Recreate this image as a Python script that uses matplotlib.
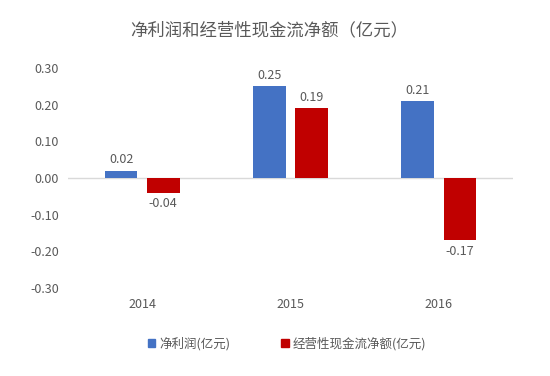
import numpy as np
import matplotlib.pyplot as plt
from matplotlib.patches import Patch

plt.rcParams['font.family'] = ['Noto Sans CJK SC', 'DejaVu Sans']

years = ["2014", "2015", "2016"]
net_profit = [0.02, 0.25, 0.21]
op_cash = [-0.04, 0.19, -0.17]
series_names = ["净利润(亿元)", "经营性现金流净额(亿元)"]
title = "净利润和经营性现金流净额（亿元）"

blue = "#4472C4"
red = "#C00000"
txt = "#595959"

fig = plt.figure(figsize=(5.5, 3.76), dpi=100)
ax = fig.add_axes([0.1236, 0.234, 0.809, 0.585])

x = np.arange(len(years))
w = 0.22
off = 0.142
ax.bar(x - off, net_profit, w, color=blue)
ax.bar(x + off, op_cash, w, color=red)

for xi, v in zip(x, net_profit):
    ax.text(xi - off, v + 0.012, f"{v:.2f}", ha="center", va="bottom", fontsize=9, color=txt)
for xi, v in zip(x, op_cash):
    if v >= 0:
        ax.text(xi + off, v + 0.012, f"{v:.2f}", ha="center", va="bottom", fontsize=9, color=txt)
    else:
        ax.text(xi + off, v - 0.012, f"{v:.2f}", ha="center", va="top", fontsize=9, color=txt)

ax.set_xlim(-0.5, 2.5)
ax.set_ylim(-0.3, 0.3)
ax.set_yticks(np.arange(-0.3, 0.31, 0.1))
ax.set_yticklabels([f"{t:.2f}" for t in np.arange(-0.3, 0.31, 0.1)])
ax.set_xticks(x)
ax.set_xticklabels(years)
ax.tick_params(axis="both", length=0, labelsize=9, colors=txt)
ax.tick_params(axis="y", pad=6.5)
ax.tick_params(axis="x", pad=7)
for s in ax.spines.values():
    s.set_visible(False)
ax.axhline(0, color="#D9D9D9", linewidth=1, zorder=0)

fig.text(0.489, 0.92, title, ha="center", va="center", fontsize=12.5, color=txt)

handles = [Patch(color=blue), Patch(color=red)]
fig.legend(handles, series_names, loc="center", bbox_to_anchor=(0.522, 0.085), ncol=2,
           frameon=False, fontsize=9, handlelength=0.6, handleheight=0.6,
           handletextpad=0.3, columnspacing=4.1, labelcolor=txt)

fig.savefig("out.png", dpi=100)
